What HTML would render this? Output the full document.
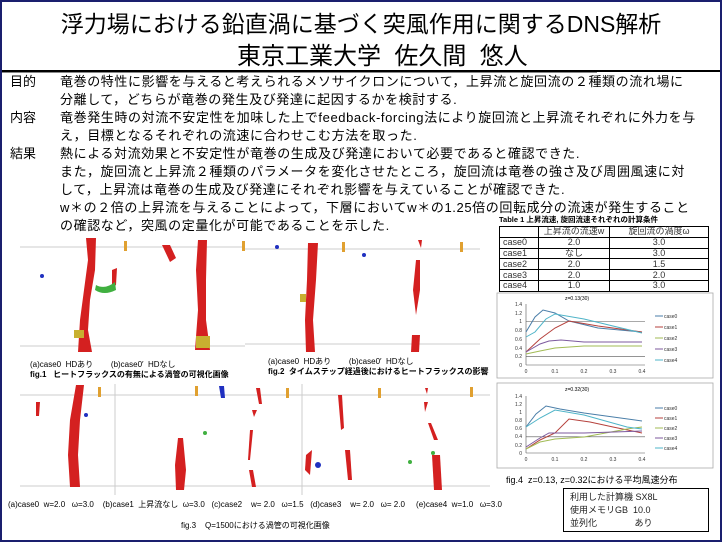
<!DOCTYPE html>
<html><head><meta charset="utf-8"><style>
body{margin:0;width:722px;height:542px;overflow:hidden;background:#fff;font-family:"Liberation Sans","Noto Sans CJK JP",sans-serif;}
#f{position:absolute;left:0;top:0;width:718px;height:538px;border:2px solid #1a1f6e;}
.t{position:absolute;white-space:nowrap;color:#000;}
table td{border:1px solid #000;height:9.8px;padding:0;}
</style></head><body>
<div id="f"></div>
<div class="t" style="left:0;width:722px;text-align:center;top:5px;font-size:23px;">浮力場における鉛直渦に基づく突風作用に関するDNS解析</div>
<div class="t" style="left:237px;top:36px;font-size:24px;">東京工業大学&nbsp;&nbsp;佐久間&nbsp;&nbsp;悠人</div>
<div style="position:absolute;left:2px;top:70px;width:718px;height:2px;background:#000"></div>
<div style="position:absolute;left:2px;top:72px;width:595px;height:1px;background:#888"></div>
<div class="t" style="left:10px;top:73px;font-size:13px;line-height:18px;">目的<br><br>内容<br><br>結果</div>
<div class="t" style="left:60px;top:73px;font-size:13px;line-height:18px;letter-spacing:0.6px;">竜巻の特性に影響を与えると考えられるメソサイクロンについて，上昇流と旋回流の２種類の流れ場に<br>分離して，どちらが竜巻の発生及び発達に起因するかを検討する.<br>竜巻発生時の対流不安定性を加味した上でfeedback-forcing法により旋回流と上昇流それぞれに外力を与<br>え，目標となるそれぞれの流速に合わせこむ方法を取った.<br>熱による対流効果と不安定性が竜巻の生成及び発達において必要であると確認できた.<br>また，旋回流と上昇流２種類のパラメータを変化させたところ，旋回流は竜巻の強さ及び周囲風速に対<br>して，上昇流は竜巻の生成及び発達にそれぞれ影響を与えていることが確認できた.<br>w＊の２倍の上昇流を与えることによって，下層においてw＊の1.25倍の回転成分の流速が発生すること<br>の確認など，突風の定量化が可能であることを示した.</div>
<div class="t" style="left:499px;top:214px;font-size:7.5px;font-weight:bold;">Table 1 上昇流速, 旋回流速それぞれの計算条件</div>
<table style="position:absolute;left:499px;top:226px;border-collapse:collapse;font-size:9px;color:#333;line-height:9px;width:210px;">
<tr><td style="width:38px"></td><td style="width:70px;text-align:center">上昇流の流速w</td><td style="text-align:center">旋回流の渦度ω</td></tr>
<tr><td style="padding-left:3px">case0</td><td style="text-align:center">2.0</td><td style="text-align:center">3.0</td></tr>
<tr><td style="padding-left:3px">case1</td><td style="text-align:center">なし</td><td style="text-align:center">3.0</td></tr>
<tr><td style="padding-left:3px">case2</td><td style="text-align:center">2.0</td><td style="text-align:center">1.5</td></tr>
<tr><td style="padding-left:3px">case3</td><td style="text-align:center">2.0</td><td style="text-align:center">2.0</td></tr>
<tr><td style="padding-left:3px">case4</td><td style="text-align:center">1.0</td><td style="text-align:center">3.0</td></tr>
</table>
<svg style="position:absolute;left:0;top:0" width="722" height="542" font-family="Liberation Sans" font-size="5">
<rect x="497" y="293" width="216" height="85" fill="none" stroke="#aaa" stroke-width="0.8"/>
<rect x="497" y="383" width="216" height="85" fill="none" stroke="#aaa" stroke-width="0.8"/>
<g stroke="#555" stroke-width="0.6">
<line x1="526" y1="304" x2="526" y2="365"/><line x1="526" y1="365" x2="645" y2="365"/>
<line x1="526" y1="321.5" x2="645" y2="321.5"/><line x1="526" y1="356.3" x2="645" y2="356.3"/>
<line x1="526" y1="396" x2="526" y2="453"/><line x1="526" y1="453" x2="645" y2="453"/>
<line x1="526" y1="436.8" x2="645" y2="436.8"/>
</g>
<text x="565" y="300">z=0.13(30)</text><text x="565" y="391">z=0.32(30)</text>
<g fill="#333" text-anchor="end">
<text x="522" y="306">1.4</text><text x="522" y="315">1.2</text><text x="522" y="323">1</text><text x="522" y="332">0.8</text><text x="522" y="341">0.6</text><text x="522" y="350">0.4</text><text x="522" y="358">0.2</text><text x="522" y="367">0</text>
<text x="522" y="398">1.4</text><text x="522" y="406">1.2</text><text x="522" y="414">1</text><text x="522" y="422">0.8</text><text x="522" y="430">0.6</text><text x="522" y="438">0.4</text><text x="522" y="447">0.2</text><text x="522" y="455">0</text>
</g>
<g fill="#333" text-anchor="middle">
<text x="526" y="373">0</text><text x="555" y="373">0.1</text><text x="584" y="373">0.2</text><text x="613" y="373">0.3</text><text x="642" y="373">0.4</text>
<text x="526" y="461">0</text><text x="555" y="461">0.1</text><text x="584" y="461">0.2</text><text x="613" y="461">0.3</text><text x="642" y="461">0.4</text>
</g>
<g fill="none" stroke-width="1">
<polyline stroke="#4a7ea8" points="526,332 535,317 543,310 555,313 569,321 598,328 642,332"/>
<polyline stroke="#b5413c" points="526,352 540,339 555,328 569,321 598,326 642,332"/>
<polyline stroke="#a2bb55" points="526,354 540,351 555,348 584,346 642,346"/>
<polyline stroke="#7d5a9e" points="526,352 540,344 549,341 561,340 584,342 642,342"/>
<polyline stroke="#4fb4c8" points="526,337 535,332 546,319 555,314 584,319 642,333"/>
<polyline stroke="#4a7ea8" points="526,427 536,414 546,406 560,409 584,413 642,421"/>
<polyline stroke="#b5413c" points="526,449 540,440 555,433 569,419 590,422 613,427 642,433"/>
<polyline stroke="#a2bb55" points="526,449 540,442 555,439 584,437 627,429 642,427"/>
<polyline stroke="#7d5a9e" points="526,447 540,438 549,433 584,433 642,431"/>
<polyline stroke="#4fb4c8" points="526,427 540,418 555,410 584,415 627,427 642,429"/>
</g>
<g stroke-width="1">
<line x1="655" y1="316" x2="663" y2="316" stroke="#4a7ea8"/><line x1="655" y1="327" x2="663" y2="327" stroke="#b5413c"/><line x1="655" y1="338" x2="663" y2="338" stroke="#a2bb55"/><line x1="655" y1="349" x2="663" y2="349" stroke="#7d5a9e"/><line x1="655" y1="360" x2="663" y2="360" stroke="#4fb4c8"/>
<line x1="655" y1="408" x2="663" y2="408" stroke="#4a7ea8"/><line x1="655" y1="418" x2="663" y2="418" stroke="#b5413c"/><line x1="655" y1="428" x2="663" y2="428" stroke="#a2bb55"/><line x1="655" y1="438" x2="663" y2="438" stroke="#7d5a9e"/><line x1="655" y1="448" x2="663" y2="448" stroke="#4fb4c8"/>
</g>
<g fill="#333"><text x="664" y="318">case0</text><text x="664" y="329">case1</text><text x="664" y="340">case2</text><text x="664" y="351">case3</text><text x="664" y="362">case4</text>
<text x="664" y="410">case0</text><text x="664" y="420">case1</text><text x="664" y="430">case2</text><text x="664" y="440">case3</text><text x="664" y="450">case4</text></g>
<g stroke="#ccc" stroke-width="1">
<line x1="20" y1="247" x2="245" y2="247"/><line x1="20" y1="346" x2="245" y2="346"/>
<line x1="245" y1="249" x2="480" y2="249"/><line x1="245" y1="344" x2="480" y2="344"/>
<line x1="20" y1="395" x2="490" y2="395"/><line x1="20" y1="486" x2="490" y2="486"/>
<line x1="115" y1="384" x2="115" y2="495"/><line x1="302" y1="384" x2="302" y2="495"/>
</g>
<g fill="#d42020">
<path d="M86,238 L96,238 L95,270 L90,300 L88,330 L92,352 L78,352 L80,320 L84,290 L88,260 Z"/>
<path d="M198,240 L207,240 L206,280 L206,320 L210,350 L195,350 L198,310 L196,270 Z"/>
<path d="M162,245 L170,245 L176,258 L170,262 Z"/>
<path d="M112,270 L117,268 L116,285 L112,288 Z"/>
<path d="M308,243 L318,243 L316,280 L313,320 L315,352 L306,352 L305,320 L307,280 Z"/>
<path d="M416,260 L420,260 L420,290 L416,315 L413,290 Z"/>
<path d="M412,335 L420,335 L419,352 L411,352 Z"/>
<path d="M418,240 L422,240 L421,248 Z"/>
<path d="M76,385 L84,385 L80,420 L78,455 L80,487 L70,487 L68,455 L70,420 Z"/>
<path d="M36,402 L40,402 L39,416 L36,416 Z"/>
<path d="M178,438 L183,438 L186,470 L184,490 L176,490 L175,465 Z"/>
<path d="M250,430 L253,430 L250,460 L248,460 Z"/>
<path d="M256,388 L260,388 L262,404 L259,404 Z"/>
<path d="M252,410 L257,410 L254,417 Z"/><path d="M249,470 L253,470 L256,487 L252,487 Z"/>
<path d="M338,395 L342,395 L344,428 L341,430 Z"/><path d="M345,450 L350,450 L352,480 L348,480 Z"/><path d="M306,455 L312,450 L310,475 L305,470 Z"/>
<path d="M425,388 L428,388 L427,394 Z"/><path d="M424,402 L428,402 L425,412 Z"/><path d="M428,423 L431,423 L438,440 L434,440 Z"/>
<path d="M432,455 L440,455 L442,490 L434,490 Z"/>
</g>
<g fill="#2030c0"><circle cx="42" cy="276" r="2"/><circle cx="277" cy="247" r="2"/><circle cx="364" cy="255" r="2"/><path d="M219,386 L224,386 L225,398 L221,398 Z"/><circle cx="86" cy="415" r="2"/><circle cx="318" cy="465" r="3"/></g>
<g fill="#40b040"><path d="M96,285 Q105,290 115,282 L116,290 Q104,296 95,290 Z"/><circle cx="205" cy="433" r="2"/><circle cx="433" cy="453" r="2"/><circle cx="410" cy="462" r="2"/></g>
<g fill="#c8b030"><rect x="74" y="330" width="10" height="8"/><rect x="196" y="336" width="14" height="12"/><rect x="300" y="294" width="6" height="8"/></g>
<g fill="#e0a030"><rect x="124" y="241" width="3" height="10"/><rect x="242" y="241" width="3" height="10"/><rect x="342" y="242" width="3" height="10"/><rect x="460" y="242" width="3" height="10"/><rect x="98" y="387" width="3" height="10"/><rect x="195" y="386" width="3" height="10"/><rect x="286" y="388" width="3" height="10"/><rect x="378" y="388" width="3" height="10"/><rect x="470" y="387" width="3" height="10"/></g>
</svg>
<div class="t" style="left:30px;top:359px;font-size:8px;">(a)case0&nbsp; HDあり&nbsp;&nbsp;&nbsp;&nbsp;&nbsp;&nbsp;&nbsp; (b)case0′&nbsp; HDなし</div>
<div class="t" style="left:30px;top:369px;font-size:8px;font-weight:bold;">fig.1&nbsp;&nbsp; ヒートフラックスの有無による渦管の可視化画像</div>
<div class="t" style="left:268px;top:356px;font-size:8px;">(a)case0&nbsp; HDあり&nbsp;&nbsp;&nbsp;&nbsp;&nbsp;&nbsp;&nbsp; (b)case0′&nbsp; HDなし</div>
<div class="t" style="left:268px;top:366px;font-size:8px;font-weight:bold;">fig.2&nbsp; タイムステップ経過後におけるヒートフラックスの影響</div>
<div class="t" style="left:8px;top:499px;font-size:8px;">(a)case0&nbsp; w=2.0&nbsp;&nbsp; ω=3.0&nbsp;&nbsp;&nbsp; (b)case1&nbsp; 上昇流なし&nbsp; ω=3.0&nbsp;&nbsp; (c)case2&nbsp;&nbsp;&nbsp; w= 2.0&nbsp;&nbsp; ω=1.5&nbsp;&nbsp; (d)case3&nbsp;&nbsp;&nbsp; w= 2.0&nbsp;&nbsp; ω= 2.0&nbsp;&nbsp;&nbsp;&nbsp; (e)case4&nbsp; w=1.0&nbsp;&nbsp; ω=3.0</div>
<div class="t" style="left:181px;top:520px;font-size:8px;">fig.3&nbsp;&nbsp;&nbsp; Q=1500における渦管の可視化画像</div>
<div class="t" style="left:506px;top:473px;font-size:9px;">fig.4&nbsp; z=0.13, z=0.32における平均風速分布</div>
<div style="position:absolute;left:563px;top:488px;width:146px;height:44px;border:1px solid #000;font-size:9px;line-height:13px;padding:2px 0 0 6px;box-sizing:border-box;color:#222;">利用した計算機 SX8L<br>使用メモリGB&nbsp;&nbsp;10.0<br>並列化&nbsp;&nbsp;&nbsp;&nbsp;&nbsp;&nbsp;&nbsp;&nbsp;&nbsp;&nbsp;&nbsp;&nbsp;&nbsp;&nbsp;&nbsp;あり</div>
</body></html>
